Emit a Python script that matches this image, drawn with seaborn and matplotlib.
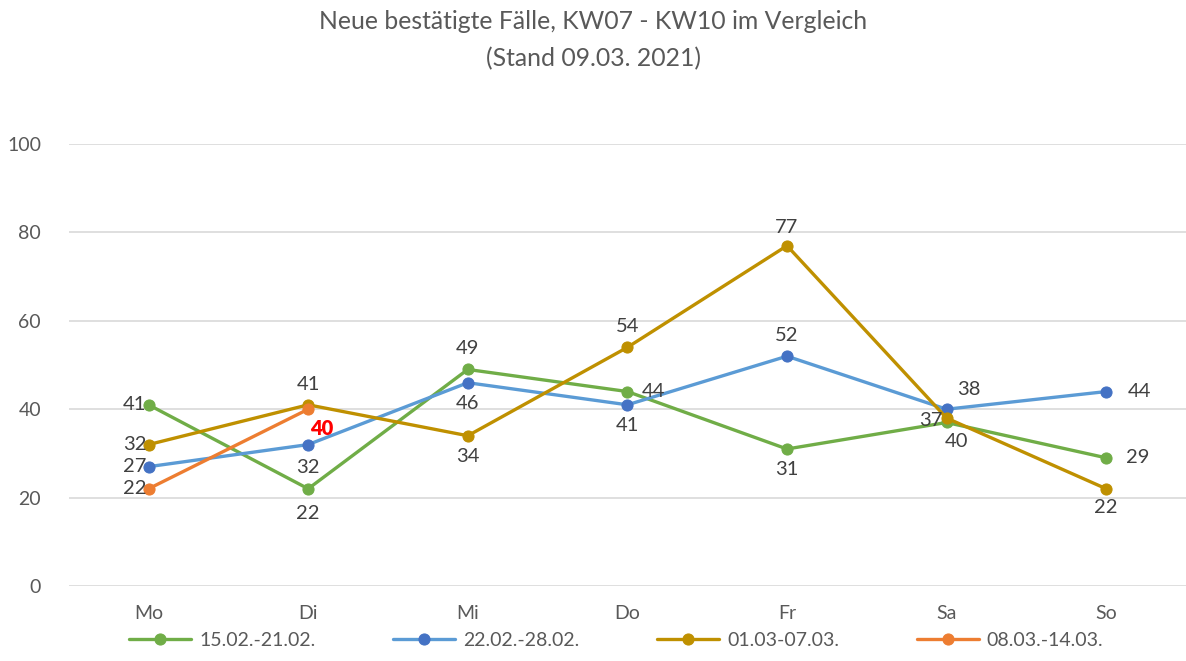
import pandas as pd, matplotlib.pyplot as plt
import seaborn as sns

days = ["Mo", "Di", "Mi", "Do", "Fr", "Sa", "So"]
kw07 = [41, 22, 49, 44, 31, 37, 29]
kw08 = [27, 32, 46, 41, 52, 40, 44]
kw09 = [32, 41, 34, 54, 77, 38, 22]
kw10 = [22, 40]
names = ["15.02.-21.02.", "22.02.-28.02.", "01.03-07.03.", "08.03.-14.03."]

sns.set_style("white")
plt.rcParams['font.family'] = ['Lato', 'DejaVu Sans']

fig = plt.figure(figsize=(11.86, 6.61), dpi=100)
ax = fig.add_axes([0.058, 0.1135, 0.942, 0.6685])

# line colour, marker colour, label positions (offset in px)
series = [
    (kw07, "#70AD47", "#70AD47", [(-2, 0, 'right', 'center'), (0, -16, 'center', 'top'), (0, 12, 'center', 'bottom'),
                                  (14, 0, 'left', 'center'), (0, -12, 'center', 'top'), (-4, 2, 'right', 'center'),
                                  (20, 0, 'left', 'center')]),
    (kw08, "#5B9BD5", "#4472C4", [(-2, 0, 'right', 'center'), (0, -14, 'center', 'top'), (0, -12, 'center', 'top'),
                                  (0, -12, 'center', 'top'), (0, 12, 'center', 'bottom'), (10, -24, 'center', 'top'),
                                  (22, 0, 'left', 'center')]),
    (kw09, "#BF9000", "#BF9000", [(-2, 0, 'right', 'center'), (0, 12, 'center', 'bottom'), (0, -12, 'center', 'top'),
                                  (0, 12, 'center', 'bottom'), (0, 10, 'center', 'bottom'), (22, 20, 'center', 'bottom'),
                                  (0, -10, 'center', 'top')]),
    (kw10, "#ED7D31", "#ED7D31", [(-2, 0, 'right', 'center'), (2, -10, 'left', 'top')]),
]

for (vals, lc, mc, pos), name in zip(series, names):
    df = pd.DataFrame({"Tag": days[:len(vals)], "Fälle": vals})
    sns.lineplot(data=df, x="Tag", y="Fälle", ax=ax, color=lc, linewidth=2.4, marker='o', markersize=8,
                 markerfacecolor=mc, markeredgecolor=mc, label=name, sort=False)
    for i, v in enumerate(vals):
        dx, dy, ha, va = pos[i]
        red = name == names[3] and i == 1
        ax.annotate(str(v), (i, v), xytext=(dx, dy), textcoords='offset pixels', ha=ha, va=va,
                    fontsize=14.5, color='red' if red else '#404040', fontweight='heavy' if red else 'normal')

ax.set_ylim(0, 100)
ax.set_xlim(-0.5, 6.5)
ax.set_yticks(range(0, 101, 20))
ax.yaxis.grid(True, color='#D9D9D9', linewidth=1.2)
ax.xaxis.grid(False)
for s in ax.spines.values():
    s.set_visible(False)
ax.tick_params(axis='both', length=0, labelsize=14, labelcolor='#595959', pad=14)
ax.tick_params(axis='y', pad=20)
ax.set_xlabel("")
ax.set_ylabel("")

fig.suptitle("Neue bestätigte Fälle, KW07 - KW10 im Vergleich\n(Stand 09.03. 2021)",
             y=0.985, fontsize=17.8, color='#595959', linespacing=1.75)

ax.legend(loc='upper center', bbox_to_anchor=(0.49, -0.065), ncol=4, frameon=False, fontsize=14,
          labelcolor='#595959', handlelength=3.2, columnspacing=4.0, handletextpad=0.4)

fig.savefig("out.png", dpi=100)
